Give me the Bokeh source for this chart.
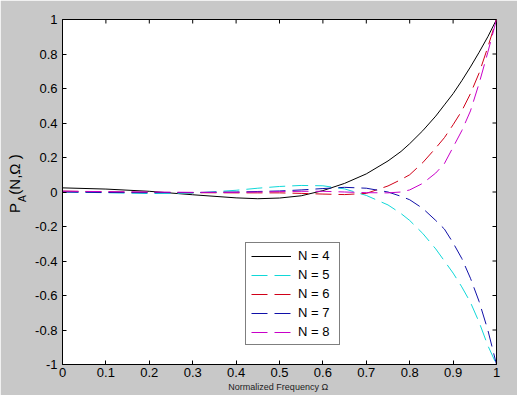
from math import pi
from bokeh.plotting import figure
from bokeh.models import Range1d, FixedTicker, Label
from bokeh.embed import file_html
from bokeh.resources import INLINE

# ---- data ----
omega = [0, 0.1, 0.2, 0.3, 0.4, 0.45, 0.5, 0.55, 0.6, 0.65, 0.7, 0.75, 0.78,
         0.8, 0.83, 0.86, 0.88, 0.9, 0.92, 0.94, 0.96, 0.98, 1.0]
p_n4 = [0.024, 0.017, 0.004, -0.016, -0.034, -0.039, -0.035, -0.022, 0.008, 0.05,
        0.105, 0.18, 0.235, 0.28, 0.355, 0.44, 0.505, 0.57, 0.645, 0.725, 0.81, 0.9, 1.0]
p_n5 = [0.0, -0.004, -0.009, -0.007, 0.01, 0.022, 0.032, 0.038, 0.036, 0.018,
        -0.02, -0.075, -0.125, -0.165, -0.24, -0.33, -0.4, -0.47, -0.55, -0.64, -0.755, -0.89, -1.0]
p_n6 = [0.005, 0.001, -0.002, -0.004, -0.005, -0.005, -0.005, -0.008, -0.012, -0.015,
        -0.008, 0.035, 0.072, 0.1, 0.17, 0.255, 0.315, 0.39, 0.47, 0.57, 0.69, 0.84, 1.0]
p_n7 = [0.0, -0.003, -0.004, -0.003, 0.0, 0.003, 0.006, 0.012, 0.02, 0.027,
        0.022, 0.0, -0.025, -0.045, -0.095, -0.165, -0.215, -0.295, -0.385, -0.5, -0.635, -0.8, -1.0]
p_n8 = [0.005, 0.002, 0.0, -0.002, -0.002, 0.0, 0.002, 0.004, 0.004, 0.0,
        -0.004, -0.005, 0.0, 0.012, 0.05, 0.11, 0.165, 0.26, 0.355, 0.47, 0.63, 0.81, 1.0]

series_labels = ["N = 4", "N = 5", "N = 6", "N = 7", "N = 8"]
series_values = [p_n4, p_n5, p_n6, p_n7, p_n8]

xticks = [0, 0.1, 0.2, 0.3, 0.4, 0.5, 0.6, 0.7, 0.8, 0.9, 1]
xtick_labels = ["0", "0.1", "0.2", "0.3", "0.4", "0.5", "0.6", "0.7", "0.8", "0.9", "1"]
yticks = [-1, -0.8, -0.6, -0.4, -0.2, 0, 0.2, 0.4, 0.6, 0.8, 1]
ytick_labels = ["-1", "-0.8", "-0.6", "-0.4", "-0.2", "0", "0.2", "0.4", "0.6", "0.8", "1"]

x_label = "Normalized Frequency  \u03a9"
NB = "\u00a0"
y_label_main = NB * 4 + "P" + NB * 2 + "(N,\u03a9 )"   # room left for the subscript
y_label_sub = "A"

# ---- styles ----
colors = ["#000000", "#10d8d8", "#d00018", "#1010a8", "#c800c8"]
dashes = ["solid", "16 7", "16 7", "16 7", "16 7"]
FONT = "Liberation Sans"
GRAY = "#c8c8c8"
X0, X1, Y0, Y1 = 0, 1, -1, 1

p = figure(width=517, height=395, output_backend="svg", toolbar_location=None,
           x_range=Range1d(X0, X1), y_range=Range1d(Y0, Y1),
           min_border_left=62, min_border_right=21, min_border_top=19, min_border_bottom=31)
p.background_fill_color = "white"
p.border_fill_color = GRAY
p.outline_line_color = "black"
p.outline_line_width = 1
p.xgrid.visible = False
p.ygrid.visible = False

xa = p.xaxis[0]
xa.ticker = FixedTicker(ticks=xticks)
xa.major_label_overrides = dict(zip(xticks, xtick_labels))
ya = p.yaxis[0]
ya.ticker = FixedTicker(ticks=yticks)
ya.major_label_overrides = dict(zip(yticks, ytick_labels))
for ax in (xa, ya):
    ax.major_tick_in = 4
    ax.major_tick_out = 0
    ax.minor_tick_line_color = None
    ax.axis_line_color = "black"
    ax.major_tick_line_color = "black"
    ax.major_label_text_font = FONT
    ax.major_label_text_font_size = "13px"
    ax.major_label_text_color = "black"
    ax.axis_label_text_font = FONT
    ax.axis_label_text_font_style = "normal"
xa.major_label_standoff = 3
ya.major_label_standoff = 5

xa.axis_label = x_label
xa.axis_label_text_font_size = "9px"
xa.axis_label_text_color = "#222222"
xa.axis_label_standoff = 2

ya.axis_label = y_label_main
ya.axis_label_text_font_size = "15px"
ya.axis_label_text_color = "black"
ya.axis_label_standoff = 9

# inward ticks on the top and right edges of the box (4 px long)
p.ray(x=xticks, y=[Y1] * len(xticks), length=4, length_units="screen",
      angle=-pi / 2, line_color="black", line_width=1)
p.ray(x=[X1] * len(yticks), y=yticks, length=4, length_units="screen",
      angle=pi, line_color="black", line_width=1)

for vals, lab, col, dash in zip(series_values, series_labels, colors, dashes):
    p.line(omega, vals, line_color=col, line_width=1, line_dash=dash, legend_label=lab)

lg = p.legend[0]
lg.location = (183, 19)
lg.margin = 0
lg.padding = 5
lg.spacing = 4
lg.glyph_width = 40
lg.glyph_height = 14
lg.label_height = 14
lg.label_width = 36
lg.label_standoff = 7
lg.label_text_font = FONT
lg.label_text_font_size = "13px"
lg.label_text_color = "black"
lg.border_line_color = "black"
lg.border_line_width = 1
lg.background_fill_color = "white"
lg.background_fill_alpha = 1.0

# subscript of the y title (kept in a side panel that has spare room)
p.add_layout(Label(x=-0.0915, y=-0.058, text=y_label_sub, angle=pi / 2, text_font=FONT,
                   text_font_size="10px", text_align="left", text_baseline="alphabetic",
                   text_color="black"), "right")

open("out.html", "w").write(file_html(p, INLINE))
